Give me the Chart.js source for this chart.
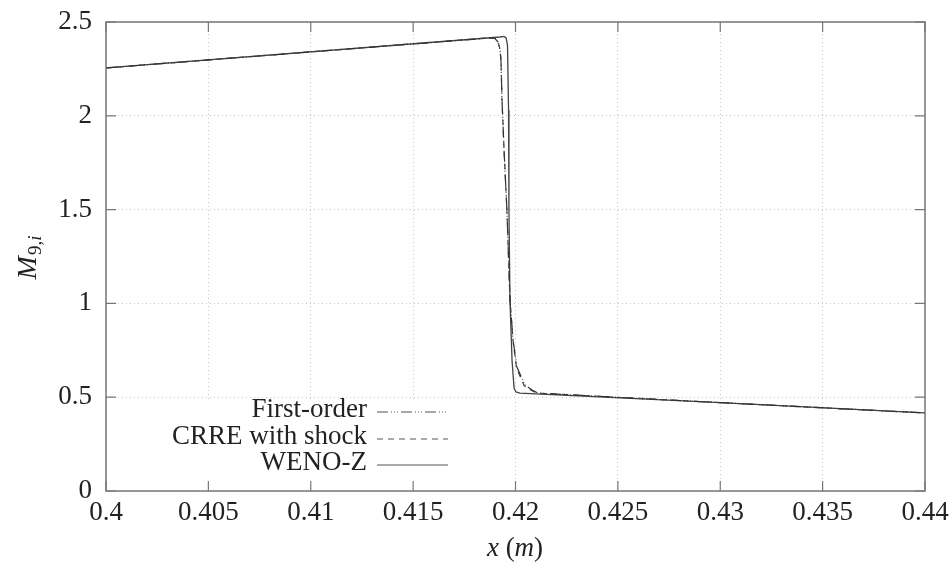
<!DOCTYPE html>
<html>
<head>
<meta charset="utf-8">
<script src="https://cdn.jsdelivr.net/npm/chart.js@4.4.0/dist/chart.umd.min.js"></script>
<style>
  body { margin: 0; background: #fff; }
</style>
</head>
<body>
<canvas id="chart" width="952" height="570"></canvas>
<script>
// values
var firstX = [0.4, 0.41875, 0.419, 0.41915, 0.41924, 0.41929, 0.41934, 0.41944, 0.41958, 0.41973, 0.41988, 0.42007, 0.42046, 0.42081, 0.4211, 0.43, 0.44];
var firstY = [2.255, 2.415, 2.412, 2.393, 2.351, 2.297, 2.084, 1.818, 1.498, 1.018, 0.805, 0.661, 0.565, 0.538, 0.522, 0.471, 0.416];
var crreX = [0.4, 0.41875, 0.419, 0.41915, 0.41924, 0.41929, 0.41934, 0.41944, 0.41958, 0.41973, 0.41988, 0.42005, 0.42042, 0.42078, 0.42105, 0.43, 0.44];
var crreY = [2.255, 2.416, 2.413, 2.395, 2.355, 2.3, 2.09, 1.82, 1.5, 1.02, 0.8, 0.655, 0.562, 0.536, 0.522, 0.471, 0.416];
var wenoX = [0.4, 0.41924, 0.41944, 0.41954, 0.41961, 0.41966, 0.41968, 0.41973, 0.41983, 0.41993, 0.42002, 0.42022, 0.43, 0.44];
var wenoY = [2.255, 2.42, 2.423, 2.415, 2.377, 2.031, 1.498, 1.018, 0.698, 0.549, 0.528, 0.522, 0.471, 0.416];
var seriesNames = ['First-order', 'CRRE with shock', 'WENO-Z'];
var xTicks = [0.4, 0.405, 0.41, 0.415, 0.42, 0.425, 0.43, 0.435, 0.44];
var yTicks = [0, 0.5, 1, 1.5, 2, 2.5];

var serif = '"Liberation Serif", "DejaVu Serif", serif';
var dashes = [[11, 3, 1, 2, 1, 2, 1, 3], [6, 5], []];

function pts(xs, ys) {
    return xs.map(function (x, i) { return { x: x, y: ys[i] }; });
}

function noPad(s) {
    s.paddingTop = 0; s.paddingBottom = 0; s.paddingLeft = 0; s.paddingRight = 0;
}

var framePlugin = {
    id: 'frame',
    beforeDatasetsDraw: function (chart) {
        var c = chart.ctx, a = chart.chartArea;
        // white box behind the legend
        c.save();
        c.fillStyle = '#fff';
        c.fillRect(a.left + 1, 399, 354, a.bottom - 399);
        c.restore();
    },
    afterDraw: function (chart) {
        var c = chart.ctx, a = chart.chartArea;
        var xs = chart.scales.x, ys = chart.scales.y;
        c.save();
        c.strokeStyle = '#777';
        c.lineWidth = 1.5;
        c.strokeRect(a.left, a.top, a.right - a.left, a.bottom - a.top);
        c.lineWidth = 1.2;
        c.beginPath();
        xTicks.forEach(function (v) {
            var px = xs.getPixelForValue(v);
            c.moveTo(px, a.bottom); c.lineTo(px, a.bottom - 10);
            c.moveTo(px, a.top); c.lineTo(px, a.top + 10);
        });
        yTicks.forEach(function (v) {
            var py = ys.getPixelForValue(v);
            c.moveTo(a.left, py); c.lineTo(a.left + 10, py);
            c.moveTo(a.right, py); c.lineTo(a.right - 10, py);
        });
        c.stroke();

        // legend
        c.font = '27px ' + serif;
        c.fillStyle = '#222';
        c.textAlign = 'right';
        c.textBaseline = 'middle';
        var rows = [410, 437, 463];
        seriesNames.forEach(function (name, i) {
            c.fillText(name, 367, rows[i]);
            c.save();
            c.strokeStyle = '#555';
            c.lineWidth = 1.2;
            c.setLineDash(dashes[i]);
            c.beginPath();
            c.moveTo(377, rows[i] + 2);
            c.lineTo(448, rows[i] + 2);
            c.stroke();
            c.restore();
        });

        // axis titles
        c.textAlign = 'left';
        c.textBaseline = 'alphabetic';
        c.font = 'italic 27px ' + serif;
        var w1 = c.measureText('x').width;
        c.font = '27px ' + serif;
        var w2 = c.measureText(' (').width;
        c.font = 'italic 27px ' + serif;
        var w3 = c.measureText('m').width;
        c.font = '27px ' + serif;
        var w4 = c.measureText(')').width;
        var sx = 515 - (w1 + w2 + w3 + w4) / 2, by = 556;
        c.font = 'italic 27px ' + serif; c.fillText('x', sx, by); sx += w1;
        c.font = '27px ' + serif; c.fillText(' (', sx, by); sx += w2;
        c.font = 'italic 27px ' + serif; c.fillText('m', sx, by); sx += w3;
        c.font = '27px ' + serif; c.fillText(')', sx, by);

        c.translate(36, 258);
        c.rotate(-Math.PI / 2);
        c.font = 'italic 28px ' + serif;
        var mw = c.measureText('M').width;
        c.font = '19px ' + serif;
        var sw = c.measureText('9,i').width;
        var start = -(mw + sw) / 2;
        c.font = 'italic 28px ' + serif;
        c.fillText('M', start, 0);
        c.font = '19px ' + serif;
        c.fillText('9,', start + mw + 1, 5);
        var nw = c.measureText('9,').width;
        c.font = 'italic 19px ' + serif;
        c.fillText('i', start + mw + 1 + nw, 5);
        c.restore();
    }
};

new Chart(document.getElementById('chart').getContext('2d'), {
    type: 'scatter',
    data: {
        datasets: [
            { label: seriesNames[0], data: pts(firstX, firstY), showLine: true, borderColor: '#333', borderWidth: 1.2, borderDash: dashes[0], pointRadius: 0 },
            { label: seriesNames[1], data: pts(crreX, crreY), showLine: true, borderColor: '#444', borderWidth: 1.2, borderDash: dashes[1], pointRadius: 0 },
            { label: seriesNames[2], data: pts(wenoX, wenoY), showLine: true, borderColor: '#444', borderWidth: 1.3, pointRadius: 0 }
        ]
    },
    options: {
        responsive: false,
        animation: false,
        layout: { padding: { left: 0, top: 22, right: 27, bottom: 0 } },
        plugins: { legend: { display: false }, tooltip: { enabled: false } },
        scales: {
            x: {
                type: 'linear', min: 0.4, max: 0.44,
                afterBuildTicks: function (s) { s.ticks = xTicks.map(function (v) { return { value: v }; }); },
                afterFit: function (s) { s.height = 79; noPad(s); },
                grid: { color: '#c8c8c8', lineWidth: 1, drawTicks: false },
                border: { display: false, dash: [1, 3] },
                ticks: {
                    padding: 6, color: '#222', maxRotation: 0, autoSkip: false,
                    font: { family: serif, size: 27 },
                    callback: function (v) { return String(Number(v.toFixed(3))); }
                }
            },
            y: {
                type: 'linear', min: 0, max: 2.5,
                afterBuildTicks: function (s) { s.ticks = yTicks.map(function (v) { return { value: v }; }); },
                afterFit: function (s) { s.width = 106; noPad(s); },
                grid: { color: '#c8c8c8', lineWidth: 1, drawTicks: false },
                border: { display: false, dash: [1, 3] },
                ticks: {
                    padding: 14, color: '#222',
                    font: { family: serif, size: 27 },
                    callback: function (v) { return String(v); }
                }
            }
        }
    },
    plugins: [framePlugin]
});
</script>
</body>
</html>
